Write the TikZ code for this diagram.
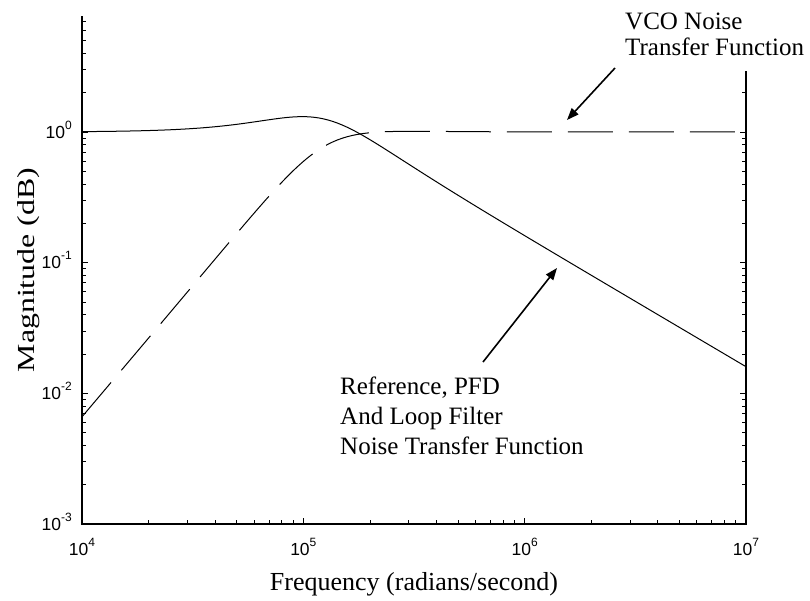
\documentclass[tikz,border=0pt]{standalone}
\usepackage{fontspec}
\setmainfont{Liberation Serif}
\newfontfamily\ticksans{Liberation Sans}
\usetikzlibrary{arrows.meta}

% exponent label such as 10^{-3}
\newcommand\tenpow[1]{10\raisebox{9pt}{\fontsize{12}{12}\selectfont #1}}

\begin{document}
\begin{tikzpicture}[x=1pt,y=-1pt,
  declare function={
    fx(\f)=82+221.33*(\f-4);
    fy(\l)=132-130.67*\l;
    qa(\t)=pow(10,2*(\t-5.09));
    qb(\t)=pow(10,-2*(\t-5.09));
  },
  axisline/.style={line width=1.6pt, line cap=rect},
  tickmark/.style={line width=0.9pt},
  curve/.style={line width=1pt, line join=round},
  dashcurve/.style={curve, dash pattern=on 45pt off 16pt},
  annot/.style={font=\fontsize{25}{#1}\selectfont, align=left, inner sep=0pt},
  pointer/.style={line width=1.6pt, -{Triangle[length=12pt,width=9pt]}},
  ticklabel/.style={font=\ticksans\fontsize{17.5}{17.5}\selectfont, inner sep=0pt}]
\useasboundingbox (0,0) rectangle (810,600);

% minor and major ticks, frequency axis
\foreach \d in {4,5,6}{
  \foreach \m in {2,...,9}{
    \draw[tickmark] ({fx(\d+ln(\m)/ln(10))},524) -- ++(0,-4);
  }
}
\foreach \d in {5,6}{
  \draw[tickmark] ({fx(\d)},524) -- ++(0,-6);
}

% ticks, magnitude axis (left and right)
\foreach \d in {-3,-2,-1}{
  \foreach \m in {2,...,9}{
    \draw[tickmark] (82,{fy(\d+ln(\m)/ln(10))}) -- ++(4,0);
    \draw[tickmark] (746,{fy(\d+ln(\m)/ln(10))}) -- ++(-4,0);
  }
}
\foreach \m in {2,...,7}{
  \draw[tickmark] (82,{fy(ln(\m)/ln(10))}) -- ++(4,0);
}
\draw[tickmark] (746,{fy(ln(2)/ln(10))}) -- ++(-4,0);
\foreach \d in {-2,-1,0}{
  \draw[tickmark] (82,{fy(\d)}) -- ++(6,0);
  \draw[tickmark] (746,{fy(\d)}) -- ++(-6,0);
}

% axis frame
\draw[axisline] (82,17) -- (82,524) -- (746,524) -- (746,72);

% tick labels
\foreach \d in {4,5,6,7}{
  \node[ticklabel, anchor=base] (xl\d) at ({fx(\d)},555) {\tenpow{\d}};
}
\foreach \d/\e in {0/0,-1/-1,-2/-2,-3/-3}{
  \node[ticklabel, anchor=base east] (yl\e) at (72,{fy(\d)+6}) {\tenpow{\e}};
}

% axis titles
\node[font=\fontsize{26}{26}\selectfont, inner sep=0pt] (xtitle) at (414,584) {Frequency (radians/second)};
\node[font=\fontsize{24.5}{24.5}\selectfont, inner sep=0pt, rotate=90, xscale=1.3] (ytitle) at (29,270) {Magnitude (dB)};

% reference, PFD and loop filter transfer function (low pass)
\draw[curve]
  plot[domain=4:5.09, samples=60]
    ({fx(\x)}, {132-28.375*(ln(1+1.69*qa(\x)) - ln((1-qa(\x))*(1-qa(\x))+1.69*qa(\x)))})
  -- plot[domain=5.09:7, samples=90]
    ({fx(\x)}, {132-28.375*(ln(qb(\x)+1.69) - ln((1-qb(\x))*(1-qb(\x))+1.69*qb(\x))) + 130.67*(\x-5.09)});

% VCO noise transfer function (high pass)
\draw[dashcurve]
  plot[domain=4:5.09, samples=60]
    ({fx(\x)}, {132-261.34*(\x-5.09) + 28.375*ln((1-qa(\x))*(1-qa(\x))+1.69*qa(\x))})
  -- plot[domain=5.09:7, samples=90]
    ({fx(\x)}, {132+28.375*ln((1-qb(\x))*(1-qb(\x))+1.69*qb(\x))});

% annotations
\node[annot=26, anchor=north west] (vco) at (625,13) {VCO Noise\\Transfer Function};
\node[annot=30, anchor=north west] (ref) at (340,377) {Reference, PFD\\And Loop Filter\\Noise Transfer Function};

\coordinate (vcotail) at (615,68);
\coordinate (vcotip) at (567,120);
\coordinate (reftail) at (483,362);
\coordinate (reftip) at (557,268);
\draw[pointer] (vcotail) -- (vcotip);
\draw[pointer] (reftail) -- (reftip);
\end{tikzpicture}
\end{document}
